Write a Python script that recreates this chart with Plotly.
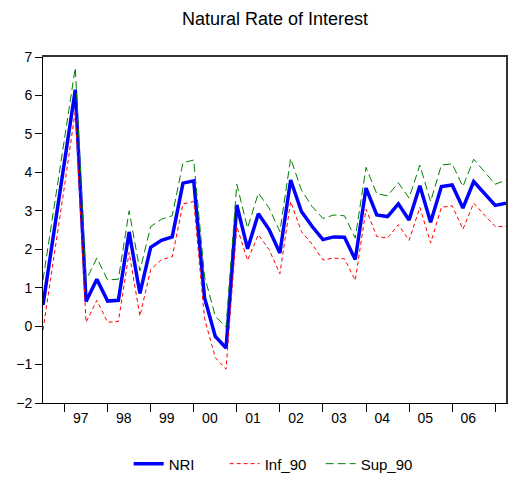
import pandas as pd
import plotly.graph_objects as go

# Quarterly sample 1996Q3 - 2007Q2
periods = pd.period_range("1996Q3", "2007Q2", freq="Q")

nri = [0.55, 2.40, 4.30, 6.15, 0.64, 1.22, 0.65, 0.67, 2.45, 0.85,
       2.05, 2.23, 2.32, 3.72, 3.78, 0.74, -0.27, -0.57, 3.15, 2.01,
       2.92, 2.51, 1.90, 3.80, 2.98, 2.59, 2.25, 2.32, 2.31, 1.73,
       3.59, 2.89, 2.85, 3.18, 2.76, 3.65, 2.70, 3.63, 3.67, 3.07,
       3.76, 3.46, 3.14, 3.20]
inf_90 = [-0.10, 1.75, 3.65, 5.60, 0.10, 0.67, 0.10, 0.12, 1.92, 0.26,
          1.47, 1.73, 1.80, 3.18, 3.24, 0.20, -0.82, -1.12, 2.59, 1.71,
          2.38, 1.99, 1.36, 3.24, 2.46, 2.13, 1.72, 1.77, 1.75, 1.19,
          3.04, 2.33, 2.29, 2.64, 2.23, 3.09, 2.16, 3.09, 3.13, 2.52,
          3.20, 2.89, 2.59, 2.59]
sup_90 = [1.20, 3.05, 4.95, 6.72, 1.20, 1.77, 1.20, 1.22, 3.00, 1.44,
          2.59, 2.78, 2.87, 4.25, 4.32, 1.30, 0.26, -0.03, 3.69, 2.55,
          3.46, 3.07, 2.46, 4.36, 3.54, 3.11, 2.80, 2.89, 2.87, 2.29,
          4.13, 3.44, 3.39, 3.73, 3.33, 4.19, 3.24, 4.19, 4.22, 3.63,
          4.34, 4.02, 3.69, 3.80]

year_ticks = list(range(1997, 2008))
year_labels = ["97", "98", "99", "00", "01", "02", "03", "04", "05", "06"]

x = [p.year + (p.quarter - 1) / 4 for p in periods]

FONT = "Liberation Sans, Arial, sans-serif"

fig = go.Figure()
fig.add_trace(go.Scatter(x=x, y=nri, name="NRI", mode="lines",
                         line=dict(color="#0000FF", width=3.5)))
fig.add_trace(go.Scatter(x=x, y=inf_90, name="Inf_90", mode="lines",
                         line=dict(color="#FF0000", width=1, dash="4px,3px")))
fig.add_trace(go.Scatter(x=x, y=sup_90, name="Sup_90", mode="lines",
                         line=dict(color="#008000", width=1, dash="8px,4px")))

fig.update_layout(
    width=512, height=481,
    margin=dict(l=43, r=6, t=57, b=78, autoexpand=False),
    paper_bgcolor="white", plot_bgcolor="white",
    font=dict(family=FONT, size=14, color="#000"),
    title=dict(text="Natural Rate of Interest", x=0.537, xanchor="center",
               y=0.962, yanchor="middle", yref="container",
               font=dict(size=18, family=FONT, color="#000")),
    showlegend=True,
    legend=dict(orientation="h", x=0.185, xanchor="left", y=-0.176,
                yanchor="middle", itemwidth=30, font=dict(size=15),
                entrywidth=51, entrywidthmode="pixels",
                bgcolor="rgba(0,0,0,0)", tracegroupgap=0),
    xaxis=dict(range=[x[0], x[-1]], tickvals=year_ticks, showticklabels=False,
               ticks="outside", ticklen=8, tickcolor="black", tickwidth=1,
               showline=True, linecolor="black", linewidth=1,
               showgrid=False, zeroline=False),
    xaxis2=dict(overlaying="x", matches="x", anchor="y", side="bottom",
                tickvals=[y + 0.375 for y in year_ticks[:-1]], ticktext=year_labels,
                ticks="outside", ticklen=2, tickcolor="rgba(0,0,0,0)",
                showline=False, showgrid=False, zeroline=False,
                tickfont=dict(size=14)),
    xaxis3=dict(overlaying="x", matches="x", anchor="y", side="top",
                showticklabels=False, ticks="", showline=True,
                linecolor="#333", linewidth=2, showgrid=False, zeroline=False),
    yaxis=dict(range=[-2, 7], dtick=1, ticks="outside", ticklen=7,
               tickcolor="black", showline=True, linecolor="black", linewidth=1,
               showgrid=False, zeroline=False, tickfont=dict(size=14)),
    yaxis2=dict(overlaying="y", matches="y", anchor="x", side="right",
                showticklabels=False, ticks="", showline=True,
                linecolor="#333", linewidth=2, showgrid=False, zeroline=False),
)

# invisible helper traces so the secondary axes (labels, frame) are rendered
fig.add_trace(go.Scatter(x=[x[0]], y=[None], xaxis="x2", showlegend=False,
                         hoverinfo="skip"))
fig.add_trace(go.Scatter(x=[x[0]], y=[None], xaxis="x3", yaxis="y2",
                         showlegend=False, hoverinfo="skip"))

fig.write_html("out.html")
